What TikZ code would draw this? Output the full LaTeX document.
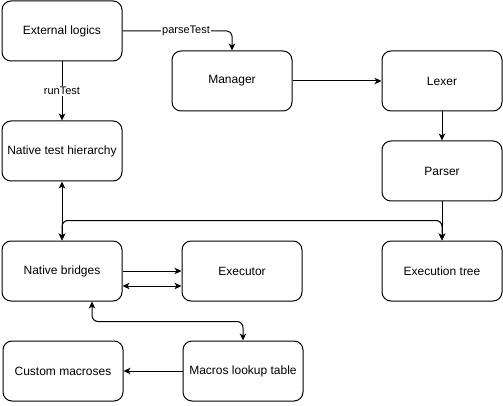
\documentclass[tikz,border=0pt]{standalone}
\usepackage{fontspec}
\setmainfont{Liberation Sans}
\usetikzlibrary{arrows.meta}
\begin{document}
\begin{tikzpicture}[x=1pt,y=-1pt,
  box/.style={draw,line width=1pt,rounded corners=9pt,minimum width=120pt,minimum height=60pt,inner sep=0pt,font=\fontsize{12pt}{14pt}\selectfont},
  conn/.style={line width=1pt,-{Stealth[length=7pt,width=6.5pt,inset=2pt]}},
  biconn/.style={line width=1pt,{Stealth[length=7pt,width=6.5pt,inset=2pt]}-{Stealth[length=7pt,width=6.5pt,inset=2pt]}},
  lbl/.style={fill=white,inner sep=1pt,font=\fontsize{11pt}{13pt}\selectfont}]
\useasboundingbox (0,0) rectangle (503,406);
\node[box] (ext) at (62,31) {External logics};
\node[box] (man) at (232,81) {Manager};
\node[box] (lex) at (442,81) {Lexer};
\node[box] (par) at (442,171) {Parser};
\node[box] (nth) at (62,151) {Native test hierarchy};
\node[box] (nb) at (62,271) {Native bridges};
\node[box] (exe) at (242,271) {Executor};
\node[box] (et) at (442,271) {Execution tree};
\node[box] (cm) at (63,371) {Custom macroses};
\node[box] (mlt) at (243,371) {Macros lookup table};
\draw[conn] (ext) -- node[lbl] {runTest} (nth);
\draw[conn,rounded corners=5pt] (ext.east) -| node[lbl,pos=0.29] {parseTest} (man.north);
\draw[conn] (man) -- (lex);
\draw[conn] (lex) -- (par);
\draw[conn] (par) -- (et);
\draw[biconn] (nth) -- (nb);
\draw[biconn,rounded corners=6pt] (nb.north) -- ++(0,-20) -| (et.north);
\draw[conn] (nb.east) -- (exe.west);
\draw[biconn] ([yshift=-15pt]nb.east) -- ([yshift=-15pt]exe.west);
\draw[biconn,rounded corners=6pt] ([xshift=30pt]nb.south) -- ++(0,20) -| (mlt.north);
\draw[conn] (mlt) -- (cm);
\end{tikzpicture}
\end{document}
